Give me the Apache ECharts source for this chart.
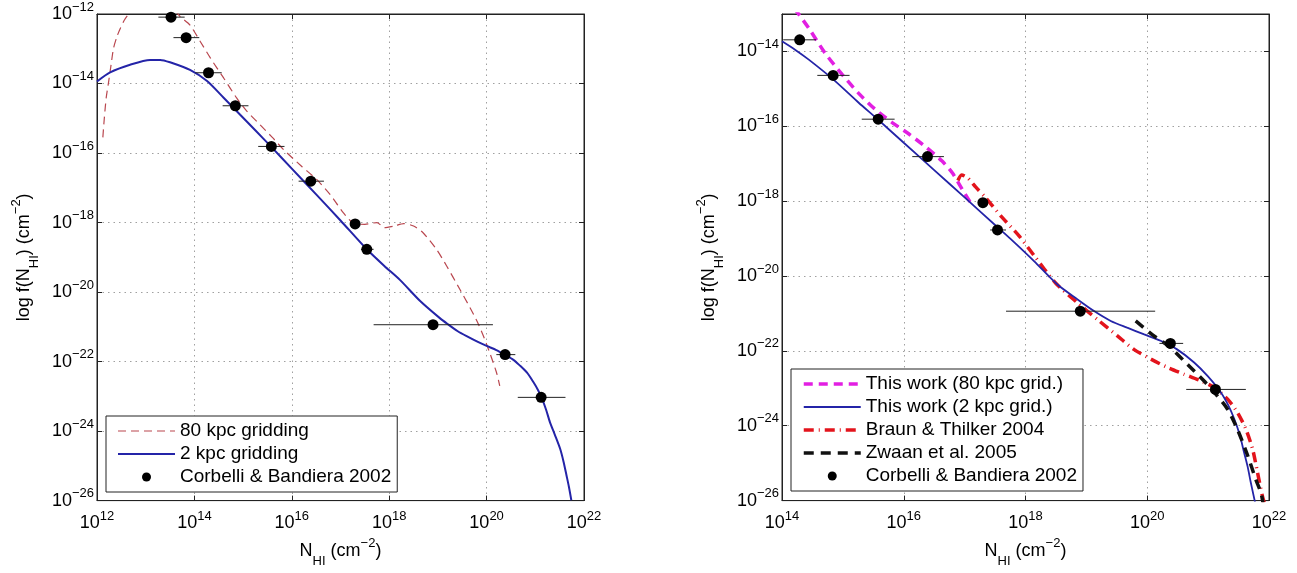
<!DOCTYPE html>
<html><head><meta charset="utf-8">
<script src="https://cdn.jsdelivr.net/npm/echarts@6/dist/echarts.min.js"></script>
<style>html,body{margin:0;padding:0;background:#fff}#c{width:1297px;height:573px}</style>
</head><body><div id="c"></div>
<script>
// All values are log10 of the plotted quantity (axes are log-scaled, labels 10^n)
// Corbelli & Bandiera 2002 points with horizontal error bars
const corbelliX   = [13.52, 13.83, 14.29, 14.84, 15.58, 16.39, 17.30, 17.54, 18.90, 20.38, 21.12];
const corbelliY   = [-12.09, -12.68, -13.69, -14.64, -15.81, -16.81, -18.04, -18.77, -20.94, -21.80, -23.03];
const corbelliXLo = [13.26, 13.57, 14.02, 14.58, 15.31, 16.14, 17.22, 17.42, 17.68, 20.20, 20.64];
const corbelliXHi = [13.80, 14.10, 14.56, 15.11, 15.85, 16.66, 17.38, 17.68, 20.13, 20.59, 21.62];

// Left panel: 80 kpc gridding (red dashed)
const left80kpc = [[12.12,-15.55],[12.15,-15.0],[12.19,-14.4],[12.24,-13.94],[12.29,-13.45],[12.34,-12.98],[12.41,-12.65],[12.48,-12.41],[12.56,-12.18],[12.65,-12.0],[12.8,-11.75],[13.1,-11.6],[13.4,-11.7],[13.6,-11.9],[13.71,-12.08],[13.91,-12.32],[14.12,-12.79],[14.33,-13.27],[14.6,-13.84],[14.87,-14.42],[15.08,-14.8],[15.35,-15.19],[15.6,-15.55],[15.83,-15.9],[16.2,-16.38],[16.51,-16.76],[16.79,-17.2],[17.06,-17.72],[17.3,-18.04],[17.5,-18.05],[17.75,-18.0],[17.9,-18.15],[18.1,-18.1],[18.3,-18.03],[18.5,-18.1],[18.7,-18.3],[18.97,-18.77],[19.18,-19.25],[19.45,-19.92],[19.66,-20.45],[19.83,-20.92],[20.0,-21.5],[20.2,-22.3],[20.27,-22.7]];
// Left panel: 2 kpc gridding (blue solid)
const left2kpc = [[12.0,-13.94],[12.27,-13.68],[12.68,-13.46],[13.09,-13.32],[13.3,-13.32],[13.5,-13.39],[13.91,-13.61],[14.26,-13.93],[14.6,-14.41],[14.94,-14.9],[15.26,-15.36],[15.57,-15.81],[16.0,-16.45],[16.5,-17.19],[17.0,-17.94],[17.54,-18.77],[17.9,-19.25],[18.22,-19.65],[18.63,-20.25],[19.04,-20.75],[19.21,-20.93],[19.4,-21.12],[19.59,-21.27],[19.8,-21.42],[20.0,-21.55],[20.2,-21.67],[20.38,-21.81],[20.55,-21.95],[20.68,-22.11],[20.83,-22.32],[20.96,-22.59],[21.06,-22.83],[21.13,-23.04],[21.22,-23.38],[21.3,-23.74],[21.4,-24.1],[21.51,-24.51],[21.58,-24.88],[21.64,-25.27],[21.69,-25.6],[21.74,-25.99]];

// Right panel curves
const right80kpc = [[14.2,-12.85],[14.25,-12.95],[14.44,-13.38],[14.71,-14.05],[14.99,-14.62],[15.26,-15.12],[15.54,-15.56],[15.81,-15.9],[16.08,-16.2],[16.36,-16.55],[16.63,-16.93],[16.8,-17.25],[16.96,-17.68],[17.1,-18.05]];
const right2kpc = [[14.0,-13.73],[14.22,-13.96],[14.44,-14.22],[14.85,-14.76],[15.26,-15.37],[15.57,-15.81],[16.0,-16.44],[16.5,-17.17],[17.0,-17.9],[17.55,-18.71],[17.75,-19.0],[18.14,-19.6],[18.52,-20.22],[18.85,-20.62],[19.12,-20.93],[19.4,-21.2],[19.67,-21.38],[19.95,-21.56],[20.22,-21.73],[20.49,-21.96],[20.77,-22.31],[20.99,-22.67],[21.21,-23.11],[21.33,-23.45],[21.43,-23.82],[21.52,-24.25],[21.59,-24.71],[21.65,-25.1],[21.7,-25.51],[21.77,-26.04]];
const braunThilker = [[16.89,-17.45],[16.95,-17.3],[17.05,-17.38],[17.18,-17.62],[17.34,-17.9],[17.62,-18.44],[17.89,-18.92],[18.14,-19.45],[18.49,-20.18],[18.85,-20.71],[19.18,-21.16],[19.51,-21.6],[19.78,-21.96],[20.06,-22.22],[20.33,-22.44],[20.6,-22.62],[20.88,-22.8],[21.1,-22.98],[21.32,-23.29],[21.48,-23.64],[21.62,-24.09],[21.73,-24.62],[21.81,-25.24],[21.89,-25.87],[21.92,-26.05]];
const zwaan = [[19.81,-21.2],[20.11,-21.6],[20.38,-21.91],[20.66,-22.36],[20.93,-22.8],[21.15,-23.2],[21.32,-23.56],[21.48,-24.09],[21.65,-24.8],[21.78,-25.42],[21.87,-25.8],[21.9,-26.05]];

const legendLeftNames  = ['80 kpc gridding', '2 kpc gridding', 'Corbelli & Bandiera 2002'];
const legendRightNames = ['This work (80 kpc grid.)', 'This work (2 kpc grid.)', 'Braun & Thilker 2004', 'Zwaan et al. 2005', 'Corbelli & Bandiera 2002'];
const xTitle = 'N{sub|HI} (cm{sup|−2})';
const yTitle = 'log f(N{sub|HI}) (cm{sup|−2})';

const F = "'Liberation Sans', Arial, Helvetica, sans-serif";
const DOT_NAME = 'Corbelli & Bandiera 2002';

const pts = corbelliX.map((x, i) => [x, corbelliY[i]]);
const bars = corbelliX.map((x, i) => [corbelliXLo[i], corbelliXHi[i], corbelliY[i]]);
const ptsR = pts.filter(p => p[0] >= 14);
const barsR = bars.filter((b, i) => corbelliX[i] >= 14);

function tickFmt(v) {
  if (Math.abs(v - Math.round(v)) > 1e-6 || Math.round(v) % 2 !== 0) return '';
  const n = Math.round(v);
  return '{b|10}{s|' + (n < 0 ? '−' : '') + Math.abs(n) + '}';
}
const labelRich = {
  b: { fontSize: 18, fontFamily: F, color: '#000' },
  s: { fontSize: 13, fontFamily: F, color: '#000', verticalAlign: 'top', padding: [0, 0, 14, 0] }
};
const nameStyle = {
  fontSize: 18, fontFamily: F, color: '#000',
  rich: {
    sub: { fontSize: 13, fontFamily: F, color: '#000', verticalAlign: 'bottom', padding: [20, 0, 0, 0] },
    sup: { fontSize: 13, fontFamily: F, color: '#000', verticalAlign: 'top', padding: [2, 0, 0, 0] }
  }
};
const gridLine = { show: true, lineStyle: { color: '#a0a0a0', width: 1, type: [1.5, 4] } };
const axLine = { show: true, onZero: false, lineStyle: { color: '#222', width: 1 } };

function xAxes(grid, min) {
  return [
    { gridIndex: grid, type: 'value', min: min, max: 22, interval: 2, position: 'bottom',
      axisLine: axLine, axisTick: { show: true, inside: true, length: 5, lineStyle: { color: '#222' } },
      axisLabel: { formatter: tickFmt, rich: labelRich, margin: 9, showMaxLabel: true, showMinLabel: true },
      splitLine: gridLine,
      name: xTitle, nameLocation: 'middle', nameGap: 34, nameTextStyle: nameStyle },
    { gridIndex: grid, type: 'value', min: min, max: 22, interval: 2, position: 'top',
      axisLine: axLine, axisTick: { show: true, inside: true, length: 5, lineStyle: { color: '#222' } },
      axisLabel: { show: false }, splitLine: { show: false } }
  ];
}
function yAxes(grid, max) {
  return [
    { gridIndex: grid, type: 'value', min: -26, max: max, interval: 2, position: 'left',
      axisLine: axLine, axisTick: { show: true, inside: true, length: 5, lineStyle: { color: '#222' } },
      axisLabel: { formatter: tickFmt, rich: labelRich, margin: 3, showMaxLabel: true, showMinLabel: true },
      splitLine: gridLine,
      name: yTitle, nameLocation: 'middle', nameGap: 56, nameTextStyle: nameStyle },
    { gridIndex: grid, type: 'value', min: -26, max: max, interval: 2, position: 'right',
      axisLine: axLine, axisTick: { show: true, inside: true, length: 5, lineStyle: { color: '#222' } },
      axisLabel: { show: false }, splitLine: { show: false } }
  ];
}

function errSeries(xi, yi, data) {
  return {
    type: 'custom', xAxisIndex: xi, yAxisIndex: yi, data: data, z: 4, silent: true,
    encode: { x: [0, 1], y: 2 },
    renderItem: function (params, api) {
      const y = api.value(2);
      const p1 = api.coord([api.value(0), y]);
      const p2 = api.coord([api.value(1), y]);
      return { type: 'line', shape: { x1: p1[0], y1: p1[1], x2: p2[0], y2: p2[1] },
               style: { stroke: '#222', lineWidth: 1 } };
    }
  };
}
const seriesWidths = {};
function lineSeries(name, xi, yi, data, color, width, type, z) {
  seriesWidths[name] = width;
  return { name: name, type: 'line', xAxisIndex: xi, yAxisIndex: yi, data: data,
           symbol: 'none', smooth: 0.25, clip: true, z: z || 2, silent: true,
           lineStyle: { color: color, width: width, type: type }, itemStyle: { color: color } };
}
function dotSeries(xi, yi, data) {
  return { name: DOT_NAME, type: 'scatter', xAxisIndex: xi, yAxisIndex: yi,
           data: data, symbol: 'circle', symbolSize: 11, z: 6, silent: true,
           itemStyle: { color: '#000', opacity: 1 } };
}
function legendData(names) {
  return names.map(n => n === DOT_NAME ? { name: n }
    : { name: n, itemStyle: { opacity: 0 }, lineStyle: { width: seriesWidths[n] } });
}

const legendBase = {
  orient: 'vertical', itemWidth: 57, itemHeight: 9, itemGap: 3,
  borderColor: '#222', borderWidth: 1, backgroundColor: '#fff', selectedMode: false,
  textStyle: { fontSize: 19, fontFamily: F, color: '#000', lineHeight: 20 }
};

const series = [
  lineSeries('80 kpc gridding', 0, 0, left80kpc, '#b9474f', 1.2, [8, 5], 2),
  lineSeries('2 kpc gridding', 0, 0, left2kpc, '#2424a8', 2, 'solid', 3),
  errSeries(0, 0, bars),
  dotSeries(0, 0, pts),
  lineSeries('This work (80 kpc grid.)', 2, 2, right80kpc, '#e21fe2', 3.5, [9, 6], 2),
  lineSeries('This work (2 kpc grid.)', 2, 2, right2kpc, '#2424a8', 1.8, 'solid', 3),
  lineSeries('Braun & Thilker 2004', 2, 2, braunThilker, '#e3141c', 3.5, [10, 5, 1, 5], 2),
  lineSeries('Zwaan et al. 2005', 2, 2, zwaan, '#111', 3.5, [10, 7], 3),
  errSeries(2, 2, barsR),
  dotSeries(2, 2, ptsR)
];

const chart = echarts.init(document.getElementById('c'), null, { renderer: 'canvas' });
chart.setOption({
  animation: false,
  backgroundColor: '#fff',
  grid: [
    { left: 97, top: 14, width: 487, height: 488, show: true, borderColor: '#222', borderWidth: 1, backgroundColor: 'transparent' },
    { left: 782, top: 14, width: 487, height: 488, show: true, borderColor: '#222', borderWidth: 1, backgroundColor: 'transparent' }
  ],
  xAxis: xAxes(0, 12).concat(xAxes(1, 14)),
  yAxis: yAxes(0, -12).concat(yAxes(1, -13)),
  legend: [
    Object.assign({}, legendBase, { data: legendData(legendLeftNames), left: 106, top: 416, padding: [5, 6, 5, 11] }),
    Object.assign({}, legendBase, { data: legendData(legendRightNames), left: 791, top: 369, padding: [5, 6, 5, 11] })
  ],
  series: series
});
</script>
</body></html>
